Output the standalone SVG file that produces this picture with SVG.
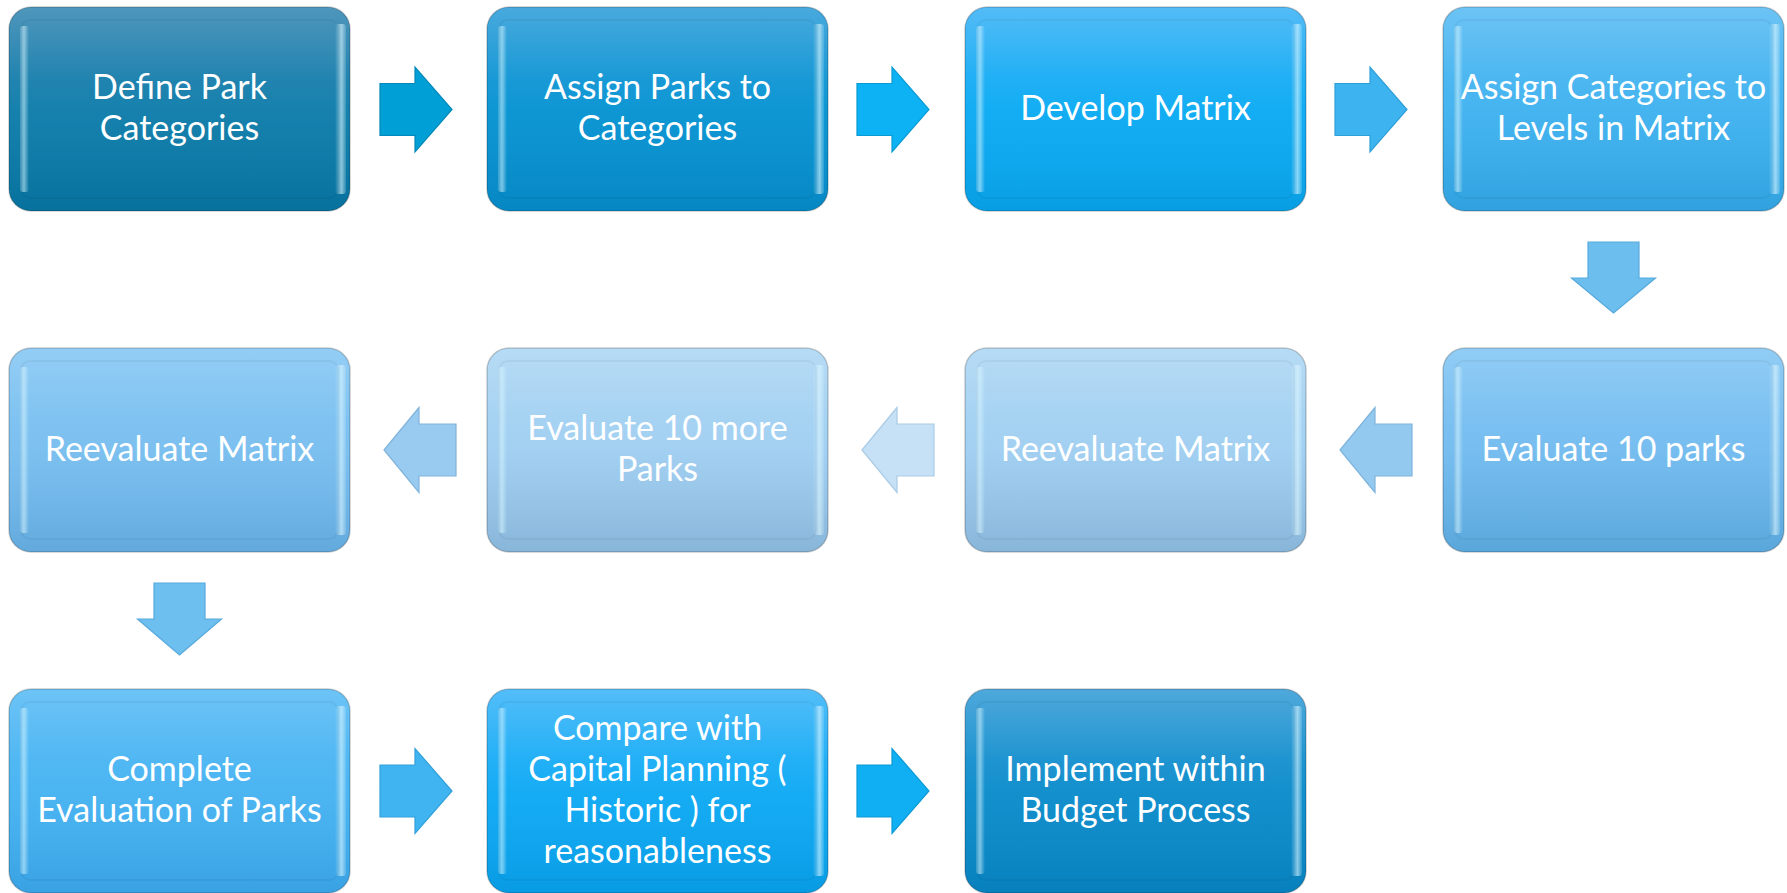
<svg xmlns="http://www.w3.org/2000/svg" width="1787" height="893" viewBox="0 0 1787 893">
<style>
.lbl{font-family:Lato,"Open Sans","DejaVu Sans",sans-serif;font-size:34px;fill:#ffffff;text-anchor:middle}
.outer{stroke:#000;stroke-opacity:.2;stroke-width:1.5}
.inner{fill:none;stroke:#000;stroke-opacity:.045;stroke-width:2}
.hl{fill:url(#hlg)}
.hr{fill:url(#hrg)}
.gloss{fill:url(#gl)}
.arr{stroke-width:1.2;stroke-linejoin:miter}
</style>
<defs>
<linearGradient id="hlg" x1="0" y1="0" x2="1" y2="0"><stop offset="0" stop-color="#d8f6ff" stop-opacity=".2"/><stop offset=".45" stop-color="#d8f6ff" stop-opacity=".55"/><stop offset="1" stop-color="#d8f6ff" stop-opacity="0"/></linearGradient>
<linearGradient id="hrg" x1="0" y1="0" x2="1" y2="0"><stop offset="0" stop-color="#d8f6ff" stop-opacity="0"/><stop offset=".6" stop-color="#e0f8ff" stop-opacity=".6"/><stop offset="1" stop-color="#d8f6ff" stop-opacity=".15"/></linearGradient>
<linearGradient id="gl" x1="0" y1="0" x2="0" y2="1"><stop offset="0" stop-color="#fff" stop-opacity=".08"/><stop offset=".35" stop-color="#fff" stop-opacity="0"/><stop offset="1" stop-color="#000" stop-opacity=".05"/></linearGradient>
<linearGradient id="g1" x1="0" y1="0" x2="0" y2="1"><stop offset="0" stop-color="#3f8db6"/><stop offset=".5" stop-color="#1580ad"/><stop offset="1" stop-color="#0677a5"/></linearGradient>
<linearGradient id="g2" x1="0" y1="0" x2="0" y2="1"><stop offset="0" stop-color="#38a2da"/><stop offset=".5" stop-color="#0c96d4"/><stop offset="1" stop-color="#058ecd"/></linearGradient>
<linearGradient id="g3" x1="0" y1="0" x2="0" y2="1"><stop offset="0" stop-color="#44b6f6"/><stop offset=".5" stop-color="#11adf4"/><stop offset="1" stop-color="#08a6ef"/></linearGradient>
<linearGradient id="g4" x1="0" y1="0" x2="0" y2="1"><stop offset="0" stop-color="#60bef3"/><stop offset=".5" stop-color="#44b4f0"/><stop offset="1" stop-color="#33aaea"/></linearGradient>
<linearGradient id="g5" x1="0" y1="0" x2="0" y2="1"><stop offset="0" stop-color="#88c8f4"/><stop offset=".5" stop-color="#76bdf0"/><stop offset="1" stop-color="#5eafe6"/></linearGradient>
<linearGradient id="g6" x1="0" y1="0" x2="0" y2="1"><stop offset="0" stop-color="#b0d8f4"/><stop offset=".5" stop-color="#a2d0f2"/><stop offset="1" stop-color="#8fbfe4"/></linearGradient>
<linearGradient id="g7" x1="0" y1="0" x2="0" y2="1"><stop offset="0" stop-color="#b0d8f4"/><stop offset=".5" stop-color="#a2d0f2"/><stop offset="1" stop-color="#8fbfe4"/></linearGradient>
<linearGradient id="g8" x1="0" y1="0" x2="0" y2="1"><stop offset="0" stop-color="#8ac9f4"/><stop offset=".5" stop-color="#7bc0f0"/><stop offset="1" stop-color="#68b2e8"/></linearGradient>
<linearGradient id="g9" x1="0" y1="0" x2="0" y2="1"><stop offset="0" stop-color="#60bef5"/><stop offset=".5" stop-color="#4ab5f2"/><stop offset="1" stop-color="#3caaee"/></linearGradient>
<linearGradient id="g10" x1="0" y1="0" x2="0" y2="1"><stop offset="0" stop-color="#44b8f9"/><stop offset=".5" stop-color="#14acf5"/><stop offset="1" stop-color="#07a3ef"/></linearGradient>
<linearGradient id="g11" x1="0" y1="0" x2="0" y2="1"><stop offset="0" stop-color="#3fa1d8"/><stop offset=".5" stop-color="#118fcd"/><stop offset="1" stop-color="#0787c7"/></linearGradient>
</defs>

<g id="connectors">
<polygon class="arr" fill="#009fd6" stroke="#0089b8" points="380,83.5 415,83.5 415,67 452,109.5 415,152 415,135.5 380,135.5"/>
<polygon class="arr" fill="#0cb2f3" stroke="#0a9bd4" points="857,83.5 892,83.5 892,67 929,109.5 892,152 892,135.5 857,135.5"/>
<polygon class="arr" fill="#3db3f0" stroke="#2f9fd8" points="1335,83.5 1370,83.5 1370,67 1407,109.5 1370,152 1370,135.5 1335,135.5"/>
<polygon class="arr" fill="#6cbeef" stroke="#58a9dc" points="1588,242 1639,242 1639,278 1655.5,278 1613.5,313 1571.5,278 1588,278"/>
<polygon class="arr" fill="#94c9ef" stroke="#7eb4dc" points="1340,450 1375,407.5 1375,424 1412,424 1412,476 1375,476 1375,492.5"/>
<polygon class="arr" fill="#c6e1f5" stroke="#a9cbe6" points="862,450 897,407.5 897,424 934,424 934,476 897,476 897,492.5"/>
<polygon class="arr" fill="#99caef" stroke="#80b4dc" points="384,450 419,407.5 419,424 456,424 456,476 419,476 419,492.5"/>
<polygon class="arr" fill="#6cbfef" stroke="#58a9dc" points="154,583 205,583 205,619 221.5,619 179.5,655 137.5,619 154,619"/>
<polygon class="arr" fill="#40b4f1" stroke="#31a0da" points="380,765 415,765 415,748.5 452,791 415,833.5 415,817 380,817"/>
<polygon class="arr" fill="#10aff3" stroke="#0a9ad6" points="857,765 892,765 892,748.5 929,791 892,833.5 892,817 857,817"/>
</g>

<g id="n1">
<rect class="outer" x="9" y="7" width="341" height="204" rx="22" fill="url(#g1)"/>
<rect class="gloss" x="9" y="7" width="341" height="204" rx="22"/>
<rect class="inner" x="21" y="20" width="317" height="178" rx="9"/>
<rect class="hl" x="20" y="26" width="9" height="166" rx="3"/>
<rect class="hr" x="335" y="24" width="11" height="170" rx="3"/>
<text class="lbl" x="179.5" y="99">Define Park</text>
<text class="lbl" x="179.5" y="140">Categories</text>
</g>
<g id="n2">
<rect class="outer" x="487" y="7" width="341" height="204" rx="22" fill="url(#g2)"/>
<rect class="gloss" x="487" y="7" width="341" height="204" rx="22"/>
<rect class="inner" x="499" y="20" width="317" height="178" rx="9"/>
<rect class="hl" x="498" y="26" width="9" height="166" rx="3"/>
<rect class="hr" x="813" y="24" width="11" height="170" rx="3"/>
<text class="lbl" x="657.5" y="99">Assign Parks to</text>
<text class="lbl" x="657.5" y="140">Categories</text>
</g>
<g id="n3">
<rect class="outer" x="965" y="7" width="341" height="204" rx="22" fill="url(#g3)"/>
<rect class="gloss" x="965" y="7" width="341" height="204" rx="22"/>
<rect class="inner" x="977" y="20" width="317" height="178" rx="9"/>
<rect class="hl" x="976" y="26" width="9" height="166" rx="3"/>
<rect class="hr" x="1291" y="24" width="11" height="170" rx="3"/>
<text class="lbl" x="1135.5" y="120">Develop Matrix</text>
</g>
<g id="n4">
<rect class="outer" x="1443" y="7" width="341" height="204" rx="22" fill="url(#g4)"/>
<rect class="gloss" x="1443" y="7" width="341" height="204" rx="22"/>
<rect class="inner" x="1455" y="20" width="317" height="178" rx="9"/>
<rect class="hl" x="1454" y="26" width="9" height="166" rx="3"/>
<rect class="hr" x="1769" y="24" width="11" height="170" rx="3"/>
<text class="lbl" x="1613.5" y="99">Assign Categories to</text>
<text class="lbl" x="1613.5" y="140">Levels in Matrix</text>
</g>
<g id="n5">
<rect class="outer" x="1443" y="348" width="341" height="204" rx="22" fill="url(#g5)"/>
<rect class="gloss" x="1443" y="348" width="341" height="204" rx="22"/>
<rect class="inner" x="1455" y="361" width="317" height="178" rx="9"/>
<rect class="hl" x="1454" y="367" width="9" height="166" rx="3"/>
<rect class="hr" x="1769" y="365" width="11" height="170" rx="3"/>
<text class="lbl" x="1613.5" y="461">Evaluate 10 parks</text>
</g>
<g id="n6">
<rect class="outer" x="965" y="348" width="341" height="204" rx="22" fill="url(#g6)"/>
<rect class="gloss" x="965" y="348" width="341" height="204" rx="22"/>
<rect class="inner" x="977" y="361" width="317" height="178" rx="9"/>
<rect class="hl" x="976" y="367" width="9" height="166" rx="3"/>
<rect class="hr" x="1291" y="365" width="11" height="170" rx="3"/>
<text class="lbl" x="1135.5" y="461">Reevaluate Matrix</text>
</g>
<g id="n7">
<rect class="outer" x="487" y="348" width="341" height="204" rx="22" fill="url(#g7)"/>
<rect class="gloss" x="487" y="348" width="341" height="204" rx="22"/>
<rect class="inner" x="499" y="361" width="317" height="178" rx="9"/>
<rect class="hl" x="498" y="367" width="9" height="166" rx="3"/>
<rect class="hr" x="813" y="365" width="11" height="170" rx="3"/>
<text class="lbl" x="657.5" y="440">Evaluate 10 more</text>
<text class="lbl" x="657.5" y="481">Parks</text>
</g>
<g id="n8">
<rect class="outer" x="9" y="348" width="341" height="204" rx="22" fill="url(#g8)"/>
<rect class="gloss" x="9" y="348" width="341" height="204" rx="22"/>
<rect class="inner" x="21" y="361" width="317" height="178" rx="9"/>
<rect class="hl" x="20" y="367" width="9" height="166" rx="3"/>
<rect class="hr" x="335" y="365" width="11" height="170" rx="3"/>
<text class="lbl" x="179.5" y="461">Reevaluate Matrix</text>
</g>
<g id="n9">
<rect class="outer" x="9" y="689" width="341" height="204" rx="22" fill="url(#g9)"/>
<rect class="gloss" x="9" y="689" width="341" height="204" rx="22"/>
<rect class="inner" x="21" y="702" width="317" height="178" rx="9"/>
<rect class="hl" x="20" y="708" width="9" height="166" rx="3"/>
<rect class="hr" x="335" y="706" width="11" height="170" rx="3"/>
<text class="lbl" x="179.5" y="781">Complete</text>
<text class="lbl" x="179.5" y="822">Evaluation of Parks</text>
</g>
<g id="n10">
<rect class="outer" x="487" y="689" width="341" height="204" rx="22" fill="url(#g10)"/>
<rect class="gloss" x="487" y="689" width="341" height="204" rx="22"/>
<rect class="inner" x="499" y="702" width="317" height="178" rx="9"/>
<rect class="hl" x="498" y="708" width="9" height="166" rx="3"/>
<rect class="hr" x="813" y="706" width="11" height="170" rx="3"/>
<text class="lbl" x="657.5" y="740">Compare with</text>
<text class="lbl" x="657.5" y="781">Capital Planning (</text>
<text class="lbl" x="657.5" y="822">Historic ) for</text>
<text class="lbl" x="657.5" y="863">reasonableness</text>
</g>
<g id="n11">
<rect class="outer" x="965" y="689" width="341" height="204" rx="22" fill="url(#g11)"/>
<rect class="gloss" x="965" y="689" width="341" height="204" rx="22"/>
<rect class="inner" x="977" y="702" width="317" height="178" rx="9"/>
<rect class="hl" x="976" y="708" width="9" height="166" rx="3"/>
<rect class="hr" x="1291" y="706" width="11" height="170" rx="3"/>
<text class="lbl" x="1135.5" y="781">Implement within</text>
<text class="lbl" x="1135.5" y="822">Budget Process</text>
</g>
</svg>
